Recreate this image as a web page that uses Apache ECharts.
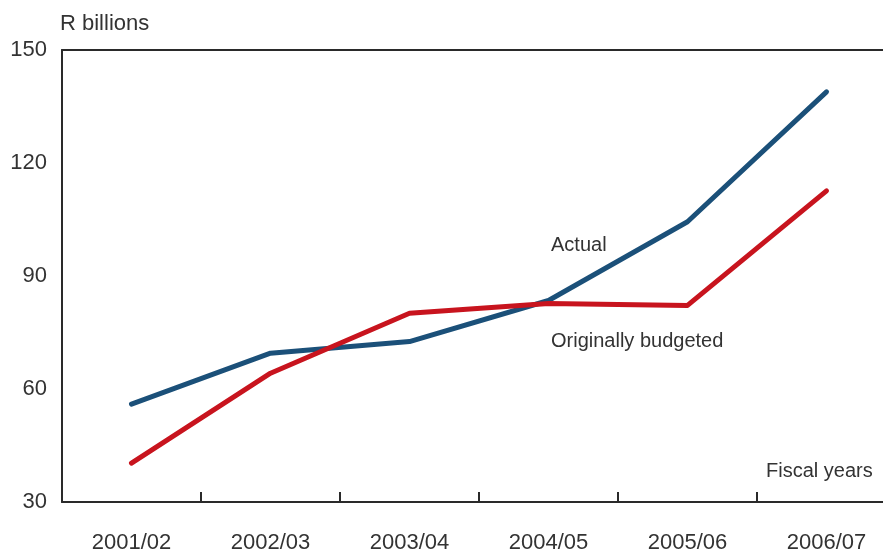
<!DOCTYPE html>
<html>
<head>
<meta charset="utf-8">
<script src="https://cdn.jsdelivr.net/npm/echarts@6/dist/echarts.min.js"></script>
<style>
  html, body { margin: 0; padding: 0; background: #fff; overflow: hidden; }
  #chart { width: 900px; height: 554px; }
</style>
</head>
<body>
<div id="chart"></div>
<script>
// Fiscal years on the category axis
const years = ['2001/02', '2002/03', '2003/04', '2004/05', '2005/06', '2006/07'];
// R billions
const actual = [56.0, 69.5, 72.6, 83.5, 104.4, 138.9];
const budgeted = [40.3, 64.2, 80.1, 82.7, 82.2, 112.6];
// Value axis ticks
const yTicks = [30, 60, 90, 120, 150];

const FONT = 'Liberation Sans';
const TEXT = '#333333';
const INK = '#2a2a2a';

const chart = echarts.init(document.getElementById('chart'), null, { renderer: 'canvas' });

chart.setOption({
  animation: false,
  backgroundColor: '#ffffff',
  grid: { left: 62, top: 50, width: 834, height: 453, show: false },
  xAxis: [
    {
      type: 'category',
      data: years,
      boundaryGap: true,
      axisLine: { show: true, lineStyle: { color: INK, width: 2 } },
      axisTick: { show: true, inside: true, length: 10, lineStyle: { color: INK, width: 2 } },
      axisLabel: { color: TEXT, fontFamily: FONT, fontSize: 22, margin: 30 },
      splitLine: { show: false }
    },
    {
      // top frame line
      type: 'category',
      data: years,
      position: 'top',
      axisLine: { show: true, lineStyle: { color: INK, width: 2 } },
      axisTick: { show: false },
      axisLabel: { show: false },
      splitLine: { show: false }
    }
  ],
  yAxis: {
    type: 'value',
    min: yTicks[0],
    max: yTicks[yTicks.length - 1],
    interval: 30,
    axisLine: { show: true, lineStyle: { color: INK, width: 2 } },
    axisTick: { show: false },
    axisLabel: { color: TEXT, fontFamily: FONT, fontSize: 22, margin: 15 },
    splitLine: { show: false }
  },
  series: [
    {
      name: 'Originally budgeted',
      type: 'line',
      data: budgeted,
      showSymbol: false,
      lineStyle: { color: '#c8141e', width: 5, cap: 'round', join: 'round' },
      z: 3
    },
    {
      name: 'Actual',
      type: 'line',
      data: actual,
      showSymbol: false,
      lineStyle: { color: '#1b5079', width: 5, cap: 'round', join: 'round' },
      z: 2
    }
  ],
  graphic: [
    {
      type: 'text', left: 60, top: 13,
      style: { text: 'R billions', fill: TEXT, font: '22px "' + FONT + '"' }
    },
    {
      type: 'text', left: 766, top: 461,
      style: { text: 'Fiscal years', fill: TEXT, font: '20px "' + FONT + '"' }
    },
    {
      type: 'text', left: 551, top: 235,
      style: { text: 'Actual', fill: TEXT, font: '20px "' + FONT + '"' }
    },
    {
      type: 'text', left: 551, top: 331,
      style: { text: 'Originally budgeted', fill: TEXT, font: '20px "' + FONT + '"' }
    }
  ]
});
</script>
</body>
</html>
